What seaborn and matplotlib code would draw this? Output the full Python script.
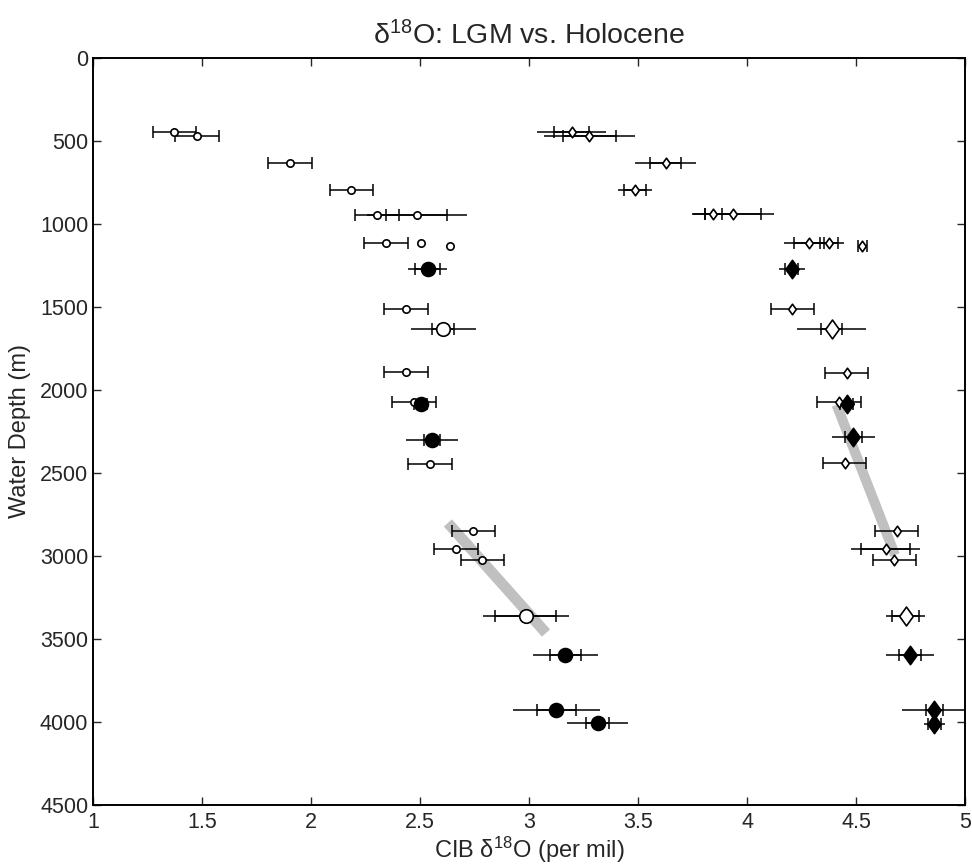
import numpy as np
import pandas as pd
import matplotlib
matplotlib.use('Agg')
import matplotlib.pyplot as plt
from matplotlib.path import Path
import seaborn as sns

# --- data ---
# left group: circles, right group: diamonds
# kind: 's' = small open, 'L' = large open, 'f' = filled
circ_x = [1.373, 1.476, 1.905, 2.185, 2.304, 2.485, 2.345, 2.505, 2.636, 2.535, 2.436, 2.606,
          2.436, 2.473, 2.503, 2.556, 2.546, 2.745, 2.665, 2.786, 2.986, 3.167, 3.126, 3.315]
circ_depth = [446, 468, 635, 797, 944, 944, 1112, 1112, 1133, 1273, 1512, 1631,
              1894, 2074, 2086, 2301, 2446, 2847, 2955, 3026, 3359, 3596, 3930, 4008]
circ_err_in = [0.1, 0.1, 0.1, 0.1, 0.1, 0.14, 0.1, 0, 0, 0.058, 0.1, 0.05,
               0.1, 0.1, 0.03, 0.038, 0.1, 0.1, 0.1, 0.1, 0.14, 0.071, 0.089, 0.052]
circ_err_out = [0, 0, 0, 0, 0, 0.23, 0, 0, 0, 0.089, 0, 0.149,
                0, 0, 0.04, 0.118, 0, 0, 0, 0, 0.199, 0.148, 0.199, 0.14]
circ_kind = ['s', 's', 's', 's', 's', 's', 's', 's', 's', 'f', 's', 'L',
             's', 's', 'f', 'f', 's', 's', 's', 's', 'L', 'f', 'f', 'f']

diam_x = [3.196, 3.277, 3.627, 3.486, 3.846, 3.936, 4.286, 4.376, 4.529, 4.206, 4.208, 4.388,
          4.457, 4.423, 4.457, 4.488, 4.448, 4.686, 4.636, 4.676, 4.728, 4.748, 4.858, 4.858]
diam_depth = [446, 468, 635, 795, 942, 942, 1112, 1112, 1133, 1273, 1512, 1633,
              1896, 2074, 2086, 2283, 2442, 2849, 2958, 3026, 3359, 3594, 3928, 4014]
diam_err_in = [0.081, 0.12, 0.07, 0.05, 0.038, 0.13, 0.069, 0.04, 0.02, 0.03, 0.1, 0.05,
               0.1, 0.1, 0.03, 0.04, 0.1, 0.1, 0.112, 0.1, 0.061, 0.051, 0.039, 0.03]
diam_err_out = [0.159, 0.21, 0.139, 0.078, 0.096, 0.19, 0.118, 0.07, 0, 0.059, 0, 0.158,
                0, 0, 0.04, 0.099, 0, 0, 0.158, 0, 0.089, 0.109, 0.148, 0.048]
diam_kind = ['s', 's', 's', 's', 's', 's', 's', 's', 's', 'f', 's', 'L',
             's', 's', 'f', 'f', 's', 's', 's', 's', 'L', 'f', 'f', 'f']

# gray trend bands (x start, x end, depth start, depth end)
band_circ_x = [2.628, 3.078]
band_circ_depth = [2801, 3464]
band_diam_x = [4.411, 4.679]
band_diam_depth = [2090, 2994]

circ = pd.DataFrame({'x': circ_x, 'depth': circ_depth, 'ein': circ_err_in,
                     'eout': circ_err_out, 'kind': circ_kind})
diam = pd.DataFrame({'x': diam_x, 'depth': diam_depth, 'ein': diam_err_in,
                     'eout': diam_err_out, 'kind': diam_kind})

# --- plot ---
sns.set_style('ticks')
plt.rcParams['font.family'] = ['Liberation Sans', 'DejaVu Sans']
plt.rcParams['mathtext.fontset'] = 'custom'
plt.rcParams['mathtext.rm'] = 'Liberation Sans'
plt.rcParams['mathtext.it'] = 'Liberation Sans:italic'
plt.rcParams['mathtext.bf'] = 'Liberation Sans:bold'

fig = plt.figure(figsize=(9.72, 8.67), dpi=100)
ax = fig.add_axes([93 / 972, 62 / 867, 872 / 972, 747 / 867])

ax.plot(band_circ_x, band_circ_depth, color='#c0c0c0', lw=7.8, solid_capstyle='butt', zorder=1)
ax.plot(band_diam_x, band_diam_depth, color='#c0c0c0', lw=7.2, solid_capstyle='butt', zorder=1)

# MATLAB-like diamond (a bit wider than matplotlib's 'd')
diamond = Path([(0, 1), (0.72, 0), (0, -1), (-0.72, 0), (0, 1)], closed=True)
sizes = {'circ': {'s': 28, 'L': 95, 'f': 100}, 'diam': {'s': 58, 'L': 185, 'f': 175}}

for name, df, mk in [('circ', circ, 'o'), ('diam', diam, diamond)]:
    outer = df[df['eout'] > 0]
    ax.errorbar(outer['x'], outer['depth'], xerr=outer['eout'], fmt='none',
                ecolor='black', elinewidth=1.1, capsize=0, zorder=2)
    inner = df[df['ein'] > 0]
    ax.errorbar(inner['x'], inner['depth'], xerr=inner['ein'], fmt='none',
                ecolor='black', elinewidth=1.1, capsize=4.5, capthick=1.1, zorder=2)
    for kind in ['s', 'L', 'f']:
        sub = df[df['kind'] == kind]
        face = 'black' if kind == 'f' else 'white'
        sns.scatterplot(data=sub, x='x', y='depth', marker=mk, s=sizes[name][kind],
                        color=face, edgecolor='black', linewidth=1.2, ax=ax,
                        zorder=3, legend=False)

ax.set_xlim(1, 5)
ax.set_ylim(4500, 0)
ax.set_xticks(np.arange(1, 5.01, 0.5))
ax.set_xticklabels(['1', '1.5', '2', '2.5', '3', '3.5', '4', '4.5', '5'])
ax.set_yticks(np.arange(0, 4501, 500))
ax.tick_params(direction='in', length=5.5, width=1.0, labelsize=15.5,
               top=True, right=True)
ax.tick_params(axis='x', pad=5)
ax.tick_params(axis='y', pad=3.5)
for s in ax.spines.values():
    s.set_linewidth(1.4)
    s.set_color('black')

ax.set_title('δ$^{18}$O: LGM vs. Holocene', fontsize=20.5, pad=10)
ax.set_xlabel('CIB δ$^{18}$O (per mil)', fontsize=17, labelpad=1)
ax.set_ylabel('Water Depth (m)', fontsize=17, labelpad=6)

fig.savefig('out.png', dpi=100)
